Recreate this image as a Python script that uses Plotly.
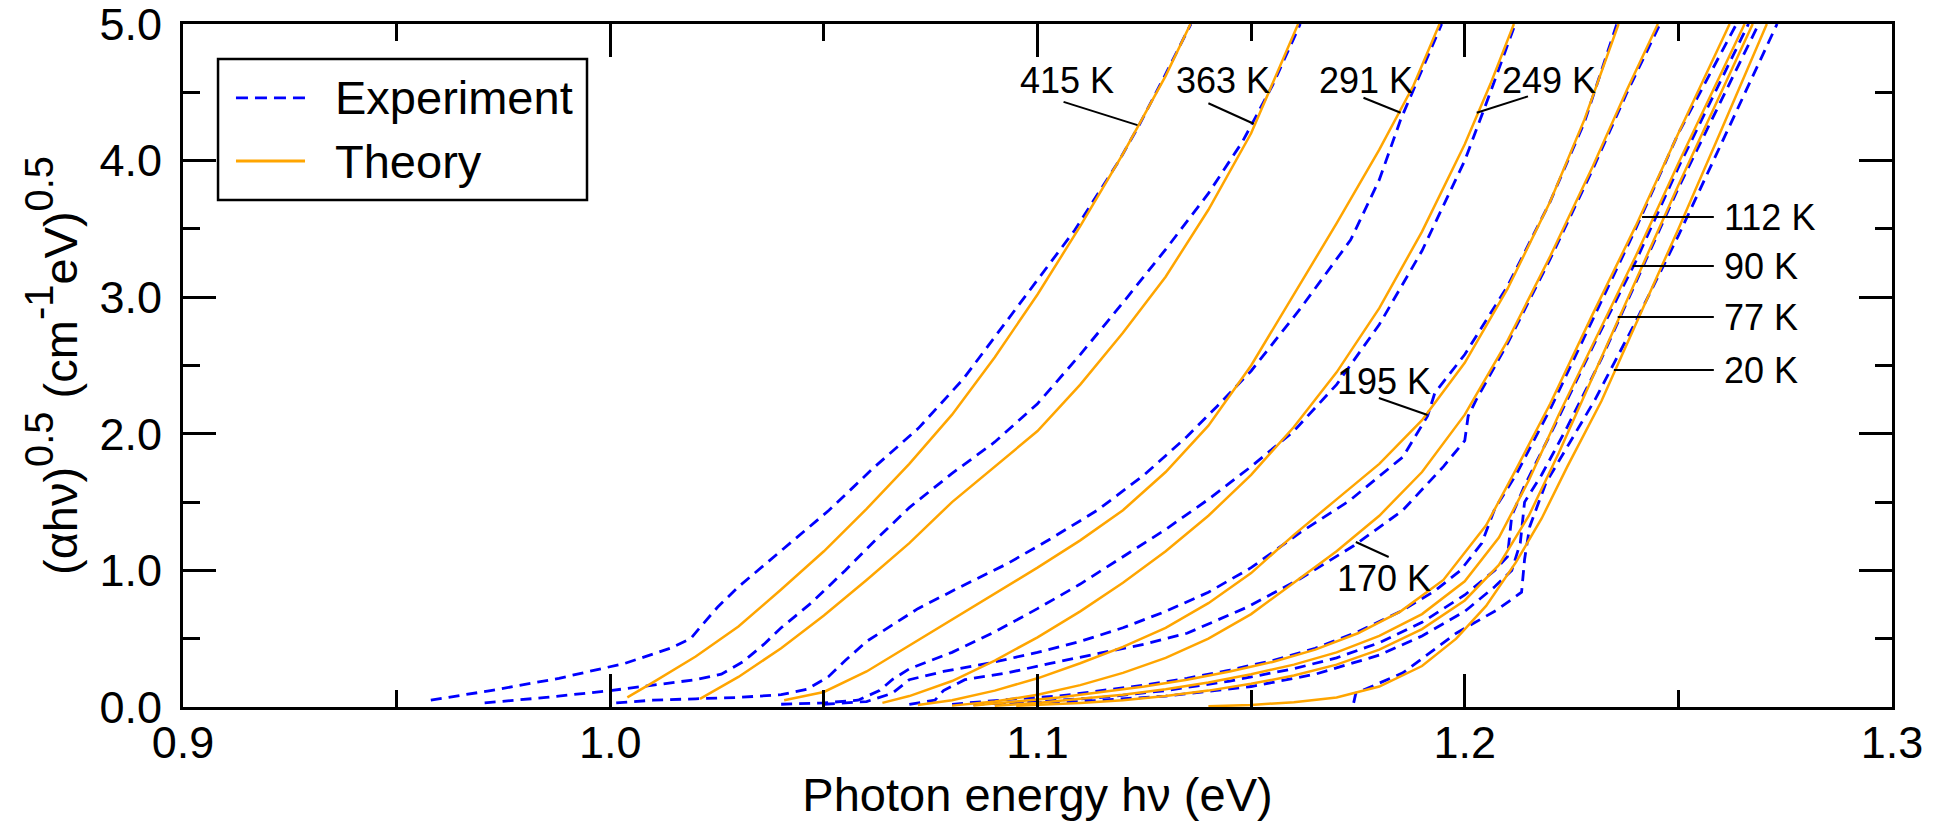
import plotly.graph_objects as go

# Temperatures (K) of the measured / modelled absorption edges
temps = [415, 363, 291, 249, 195, 170, 112, 90, 77, 20]

# ---- Experiment: photon energy (eV) and (alpha*h*nu)^0.5 ----
e415_exp = [0.958, 0.972, 0.988, 1.0035, 1.014, 1.0188, 1.0215, 1.0251, 1.030, 1.0407, 1.0512, 1.0616, 1.0721,
            1.0826, 1.0982, 1.1087, 1.1191, 1.1238, 1.1296, 1.1359]
v415_exp = [0.05, 0.12, 0.21, 0.32, 0.43, 0.50, 0.60, 0.73, 0.88, 1.16, 1.44, 1.75, 2.04, 2.40, 3.05, 3.49, 4.00,
            4.26, 4.61, 5.0]
e363_exp = [0.9706, 0.985, 1.000, 1.010, 1.020, 1.026, 1.031, 1.036, 1.040, 1.047, 1.055, 1.062, 1.070, 1.080,
            1.090, 1.100, 1.110, 1.120, 1.130, 1.140, 1.148, 1.155, 1.1615]
v363_exp = [0.03, 0.07, 0.12, 0.16, 0.20, 0.24, 0.33, 0.46, 0.58, 0.76, 1.00, 1.22, 1.46, 1.71, 1.94, 2.22, 2.58,
            2.96, 3.35, 3.76, 4.14, 4.55, 5.0]
e291_exp = [1.0014, 1.010, 1.020, 1.030, 1.040, 1.046, 1.051, 1.055, 1.060, 1.066, 1.072, 1.082, 1.093, 1.103,
            1.114, 1.125, 1.135, 1.142, 1.150, 1.1616, 1.1733, 1.180, 1.185, 1.1946]
v291_exp = [0.03, 0.05, 0.06, 0.07, 0.09, 0.13, 0.22, 0.34, 0.48, 0.60, 0.72, 0.88, 1.05, 1.23, 1.44, 1.70, 1.98,
            2.20, 2.46, 2.92, 3.42, 3.86, 4.30, 5.0]
e249_exp = [1.040, 1.050, 1.058, 1.063, 1.066, 1.070, 1.080, 1.090, 1.100, 1.110, 1.120, 1.130, 1.140, 1.150,
            1.160, 1.170, 1.180, 1.190, 1.200, 1.206, 1.2118]
v249_exp = [0.02, 0.03, 0.05, 0.12, 0.20, 0.28, 0.40, 0.55, 0.72, 0.90, 1.10, 1.30, 1.52, 1.76, 2.02, 2.36, 2.80,
            3.34, 4.00, 4.50, 5.0]
e195_exp = [1.050, 1.060, 1.066, 1.070, 1.078, 1.090, 1.100, 1.110, 1.120, 1.130, 1.140, 1.150, 1.1616, 1.173,
            1.1855, 1.1913, 1.193, 1.200, 1.210, 1.220, 1.228, 1.2356]
v195_exp = [0.02, 0.04, 0.10, 0.20, 0.26, 0.33, 0.40, 0.48, 0.58, 0.70, 0.84, 1.02, 1.28, 1.51, 1.83, 2.13, 2.30,
            2.58, 3.08, 3.70, 4.28, 5.0]
e170_exp = [1.070, 1.076, 1.078, 1.083, 1.093, 1.103, 1.114, 1.125, 1.135, 1.149, 1.161, 1.174, 1.1855, 1.195,
            1.200, 1.2008, 1.2027, 1.210, 1.220, 1.230, 1.238, 1.2457]
v170_exp = [0.02, 0.05, 0.12, 0.20, 0.25, 0.32, 0.39, 0.46, 0.54, 0.73, 0.93, 1.18, 1.44, 1.76, 1.95, 2.13, 2.25,
            2.66, 3.28, 3.94, 4.50, 5.0]
e112_exp = [1.080, 1.095, 1.105, 1.115, 1.125, 1.135, 1.145, 1.155, 1.165, 1.175, 1.185, 1.193, 1.199, 1.204,
            1.207, 1.212, 1.220, 1.230, 1.240, 1.250, 1.2636]
v112_exp = [0.02, 0.06, 0.08, 0.12, 0.16, 0.21, 0.27, 0.34, 0.43, 0.55, 0.70, 0.85, 1.00, 1.20, 1.45, 1.70, 2.18,
            2.84, 3.50, 4.20, 5.0]
e90_exp = [1.085, 1.100, 1.115, 1.130, 1.145, 1.160, 1.170, 1.180, 1.190, 1.200, 1.207, 1.210, 1.211, 1.214,
           1.222, 1.230, 1.240, 1.250, 1.2664]
v90_exp = [0.02, 0.04, 0.07, 0.12, 0.19, 0.28, 0.36, 0.47, 0.62, 0.82, 1.00, 1.10, 1.40, 1.62, 2.12, 2.64, 3.26,
           3.95, 5.0]
e77_exp = [1.090, 1.110, 1.130, 1.150, 1.165, 1.180, 1.190, 1.200, 1.207, 1.211, 1.213, 1.214, 1.218, 1.224,
           1.232, 1.240, 1.250, 1.2688]
v77_exp = [0.02, 0.04, 0.08, 0.15, 0.24, 0.38, 0.52, 0.70, 0.88, 1.00, 1.20, 1.50, 1.70, 2.05, 2.55, 3.10, 3.80,
           5.0]
e20_exp = [1.1740, 1.1745, 1.1855, 1.198, 1.2075, 1.2133, 1.2140, 1.2152, 1.219, 1.2248, 1.2305, 1.240, 1.250,
           1.260, 1.2731]
v20_exp = [0.03, 0.10, 0.25, 0.54, 0.71, 0.84, 1.08, 1.32, 1.64, 1.95, 2.25, 2.82, 3.45, 4.12, 5.0]

# ---- Theory ----
e415_th = [1.004, 1.010, 1.020, 1.030, 1.040, 1.050, 1.060, 1.070, 1.080, 1.090, 1.100, 1.110, 1.120, 1.130, 1.1358]
v415_th = [0.07, 0.18, 0.37, 0.59, 0.86, 1.14, 1.45, 1.78, 2.14, 2.56, 3.02, 3.52, 4.05, 4.62, 5.0]
e363_th = [1.021, 1.030, 1.040, 1.050, 1.060, 1.070, 1.080, 1.090, 1.100, 1.110, 1.120, 1.130, 1.140, 1.150, 1.161]
v363_th = [0.06, 0.22, 0.43, 0.67, 0.93, 1.20, 1.50, 1.76, 2.02, 2.36, 2.74, 3.15, 3.64, 4.20, 5.0]
e291_th = [1.0407, 1.050, 1.060, 1.070, 1.080, 1.090, 1.100, 1.110, 1.120, 1.130, 1.140, 1.150, 1.160, 1.170,
           1.180, 1.188, 1.1941]
v291_th = [0.05, 0.11, 0.26, 0.45, 0.64, 0.83, 1.02, 1.22, 1.44, 1.72, 2.06, 2.50, 3.02, 3.54, 4.08, 4.55, 5.0]
e249_th = [1.0637, 1.070, 1.080, 1.090, 1.100, 1.110, 1.120, 1.130, 1.140, 1.150, 1.160, 1.170, 1.180, 1.190,
           1.200, 1.206, 1.2115]
v249_th = [0.03, 0.08, 0.19, 0.34, 0.51, 0.70, 0.91, 1.14, 1.40, 1.70, 2.05, 2.45, 2.92, 3.48, 4.12, 4.56, 5.0]
e195_th = [1.072, 1.080, 1.090, 1.100, 1.110, 1.120, 1.130, 1.140, 1.150, 1.160, 1.170, 1.180, 1.190, 1.200,
           1.210, 1.220, 1.228, 1.236]
v195_th = [0.015, 0.05, 0.12, 0.21, 0.32, 0.44, 0.58, 0.76, 0.98, 1.26, 1.52, 1.78, 2.10, 2.52, 3.06, 3.70, 4.30,
           5.0]
e170_th = [1.080, 1.090, 1.100, 1.110, 1.120, 1.130, 1.140, 1.150, 1.160, 1.170, 1.180, 1.190, 1.200, 1.210,
           1.220, 1.230, 1.238, 1.2452]
v170_th = [0.01, 0.04, 0.09, 0.16, 0.25, 0.36, 0.50, 0.68, 0.91, 1.14, 1.40, 1.72, 2.14, 2.68, 3.30, 3.96, 4.52,
           5.0]
e112_th = [1.085, 1.095, 1.105, 1.115, 1.125, 1.135, 1.145, 1.155, 1.165, 1.175, 1.185, 1.195, 1.205, 1.212,
           1.220, 1.230, 1.240, 1.250, 1.262]
v112_th = [0.01, 0.04, 0.07, 0.11, 0.15, 0.20, 0.26, 0.33, 0.42, 0.54, 0.70, 0.93, 1.33, 1.74, 2.22, 2.88, 3.52,
           4.20, 5.0]
e90_th = [1.090, 1.100, 1.110, 1.120, 1.130, 1.140, 1.150, 1.160, 1.170, 1.180, 1.190, 1.200, 1.208, 1.215, 1.222,
          1.230, 1.240, 1.250, 1.2655]
v90_th = [0.01, 0.03, 0.06, 0.09, 0.13, 0.18, 0.24, 0.31, 0.40, 0.52, 0.68, 0.92, 1.24, 1.66, 2.14, 2.66, 3.30,
          3.98, 5.0]
e77_th = [1.095, 1.110, 1.120, 1.130, 1.140, 1.150, 1.160, 1.170, 1.180, 1.190, 1.200, 1.208, 1.215, 1.222, 1.230,
          1.240, 1.250, 1.2674]
v77_th = [0.01, 0.03, 0.05, 0.08, 0.12, 0.17, 0.23, 0.31, 0.42, 0.57, 0.78, 1.04, 1.40, 1.86, 2.42, 3.12, 3.82,
          5.0]
e20_th = [1.140, 1.150, 1.160, 1.170, 1.180, 1.190, 1.198, 1.205, 1.212, 1.218, 1.224, 1.232, 1.240, 1.250, 1.260,
          1.2707]
v20_th = [0.005, 0.015, 0.035, 0.07, 0.15, 0.30, 0.50, 0.74, 1.06, 1.38, 1.76, 2.24, 2.80, 3.50, 4.22, 5.0]

experiment = [(e415_exp, v415_exp), (e363_exp, v363_exp), (e291_exp, v291_exp), (e249_exp, v249_exp),
              (e195_exp, v195_exp), (e170_exp, v170_exp), (e112_exp, v112_exp), (e90_exp, v90_exp),
              (e77_exp, v77_exp), (e20_exp, v20_exp)]
theory = [(e415_th, v415_th), (e363_th, v363_th), (e291_th, v291_th), (e249_th, v249_th), (e195_th, v195_th),
          (e170_th, v170_th), (e112_th, v112_th), (e90_th, v90_th), (e77_th, v77_th), (e20_th, v20_th)]

BLUE = "#0000ff"
ORANGE = "#ffa500"
FONT = "Liberation Sans, Arial, Helvetica, sans-serif"

fig = go.Figure()
for t, (e, v) in zip(temps, experiment):
    fig.add_trace(go.Scatter(x=e, y=v, mode="lines", name=f"Experiment {t} K",
                             line=dict(color=BLUE, width=2.8, dash="11px,7px"), showlegend=False))
for t, (e, v) in zip(temps, theory):
    fig.add_trace(go.Scatter(x=e, y=v, mode="lines", name=f"Theory {t} K",
                             line=dict(color=ORANGE, width=2.5), showlegend=False))

# Temperature tags: (text, x, y, anchor) and their leader lines (x0, y0, x1, y1)
tags = [("415 K", 1.1070, 4.59, "center"), ("363 K", 1.1433, 4.59, "center"),
        ("291 K", 1.1770, 4.59, "center"), ("249 K", 1.2197, 4.59, "center"),
        ("112 K", 1.2602, 3.587, "left"), ("90 K", 1.2602, 3.228, "left"),
        ("77 K", 1.2602, 2.855, "left"), ("20 K", 1.2602, 2.467, "left"),
        ("195 K", 1.1810, 2.38, "center"), ("170 K", 1.1810, 0.944, "center")]
leaders = [(1.1061, 4.43, 1.1234, 4.26), (1.1400, 4.42, 1.1506, 4.27), (1.1763, 4.46, 1.1850, 4.35),
           (1.2148, 4.47, 1.2028, 4.35), (1.2415, 3.587, 1.2583, 3.587), (1.2393, 3.228, 1.2583, 3.228),
           (1.2358, 2.855, 1.2583, 2.855), (1.2349, 2.467, 1.2583, 2.467), (1.1799, 2.262, 1.1913, 2.138),
           (1.1822, 1.098, 1.1745, 1.208)]

for text, x, y, anchor in tags:
    fig.add_annotation(x=x, y=y, xref="x", yref="y", text=text, showarrow=False, xanchor=anchor,
                       yanchor="middle", font=dict(family=FONT, size=36, color="black"))
for x0, y0, x1, y1 in leaders:
    fig.add_shape(type="line", xref="x", yref="y", x0=x0, y0=y0, x1=x1, y1=y1,
                  line=dict(color="black", width=2))

# Legend box drawn in paper coordinates
fig.add_shape(type="rect", xref="paper", yref="paper", x0=0.0205, x1=0.2364, y0=0.7423, y1=0.9488,
              line=dict(color="black", width=2.5), fillcolor="white", layer="above")
legend_rows = [("Experiment", 0.8917, BLUE, "12px,7px", 2.8), ("Theory", 0.7994, ORANGE, "solid", 2.8)]
for label, y, color, dash, w in legend_rows:
    fig.add_shape(type="line", xref="paper", yref="paper", x0=0.0310, x1=0.0714, y0=y, y1=y,
                  line=dict(color=color, width=w, dash=dash), layer="above")
    fig.add_annotation(x=0.0878, y=y, xref="paper", yref="paper", text=label, showarrow=False,
                       xanchor="left", yanchor="middle", font=dict(family=FONT, size=47, color="black"))

axis_common = dict(showline=True, linewidth=3, linecolor="black", mirror="ticks", ticks="inside",
                   ticklen=33, tickwidth=2.5, tickcolor="black", showgrid=False, zeroline=False,
                   tickfont=dict(family=FONT, size=45, color="black"), automargin=False,
                   ticklabeloverflow="allow")

fig.update_xaxes(range=[0.9, 1.3], tickvals=[0.9, 1.0, 1.1, 1.2, 1.3], tickformat=".1f",
                 ticklabelstandoff=-6,
                 minor=dict(ticks="inside", ticklen=17, tickwidth=2.5, tickcolor="black", dtick=0.05,
                            tick0=0.9, showgrid=False),
                 title=dict(text="Photon energy hν (eV)", font=dict(family=FONT, size=47, color="black"),
                            standoff=8),
                 **axis_common)

# y title: larger base size so the superscripts come out large, main text set back to 47 px
ytitle = ('<span style="font-size:47px">(αhν)</span><sup>0.5</sup>'
          '<span style="font-size:47px"> (cm</span><sup>-1</sup>'
          '<span style="font-size:47px">eV)</span><sup>0.5</sup>')
fig.update_yaxes(range=[0, 5], tickvals=[0, 1, 2, 3, 4, 5], tickformat=".1f",
                 ticklabelstandoff=9,
                 minor=dict(ticks="inside", ticklen=17, tickwidth=2.5, tickcolor="black", dtick=0.5,
                            tick0=0, showgrid=False),
                 title=dict(text=ytitle, font=dict(family=FONT, size=57, color="black"), standoff=4),
                 **axis_common)

fig.update_layout(width=1941, height=825, margin=dict(l=183, r=49, t=24, b=118, autoexpand=False),
                  plot_bgcolor="white", paper_bgcolor="white", showlegend=False,
                  font=dict(family=FONT, color="black"))

fig.write_html("out.html")
